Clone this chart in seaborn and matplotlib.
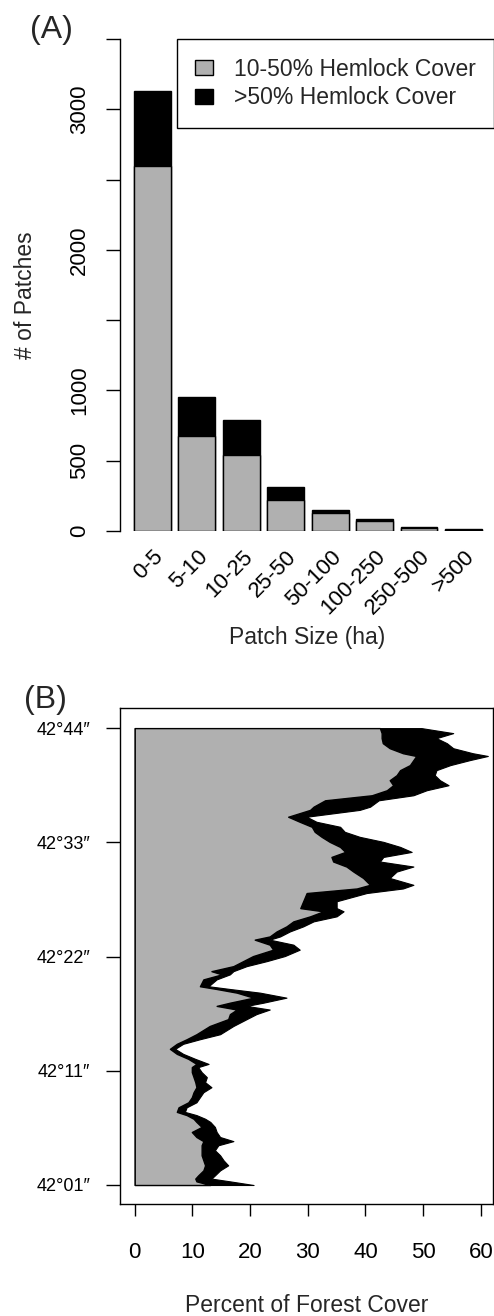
import numpy as np
import pandas as pd
import matplotlib
matplotlib.use('Agg')
import matplotlib.pyplot as plt
import matplotlib.transforms as mtransforms
from matplotlib.patches import Patch
import seaborn as sns

# Panel A: number of hemlock patches per size class
size_classes = ['0-5', '5-10', '10-25', '25-50', '50-100', '100-250', '250-500', '>500']
patches_mid = [2600, 678, 541, 216, 124, 69, 18, 8]     # 10-50% hemlock cover
patches_high = [534, 273, 244, 93, 26, 16, 6, 4]        # >50% hemlock cover

# Panel B: forest cover along the latitudinal transect (0 = 42°01'', 100 = 42°44'')
transect_pos = [0.0, 0.8, 1.4, 2.1, 3.2, 4.3, 5.4, 6.5, 7.6, 8.7, 9.6, 10.5, 11.6, 12.7,
                13.8, 14.5, 15.3, 16.0, 17.0, 18.1, 19.2, 20.3, 21.4, 22.5, 23.6, 24.7,
                25.8, 26.5, 27.6, 28.7, 29.8, 30.9, 31.9, 33.0, 34.8, 36.3, 37.4, 38.4,
                39.2, 39.9, 41.0, 42.1, 42.9, 43.5, 45.0, 46.1, 46.8, 47.9, 49.0, 50.1,
                51.5, 52.6, 53.7, 54.4, 55.5, 56.6, 57.7, 58.8, 59.9, 60.6, 62.1, 63.9,
                64.9, 65.7, 67.2, 68.6, 69.7, 70.8, 71.8, 72.9, 74.0, 75.1, 76.2, 77.3,
                78.4, 79.5, 80.6, 82.1, 82.8, 84.2, 85.3, 86.4, 87.5, 88.6, 89.7, 90.8,
                91.9, 93.0, 93.9, 94.5, 95.6, 96.7, 97.8, 98.9, 100.0]
cover_mid = [13.1, 10.7, 10.5, 11.0, 11.9, 12.2, 11.9, 11.6, 11.6, 11.6, 11.9, 10.7, 9.9, 11.6,
             10.7, 10.2, 9.0, 7.3, 7.6, 9.3, 9.9, 10.2, 10.7, 10.5, 10.2, 9.9,
             9.9, 10.7, 9.3, 7.3, 6.1, 7.3, 9.0, 10.7, 13.0, 16.2, 16.5, 17.7,
             14.2, 16.5, 20.6, 17.7, 14.2, 11.3, 11.9, 15.1, 13.3, 17.1, 18.8, 20.5,
             24.0, 23.4, 20.8, 23.4, 24.6, 26.3, 27.5, 30.4, 32.7, 28.7, 29.2, 29.8,
             38.5, 40.8, 39.6, 37.9, 36.7, 34.4, 34.1, 36.5, 35.6, 33.8, 32.4, 31.2,
             30.7, 28.6, 26.6, 30.4, 31.0, 33.0, 41.1, 43.7, 44.8, 44.2, 45.4, 46.0,
             47.7, 48.3, 48.8, 46.5, 44.2, 43.0, 42.8, 42.8, 42.5]
cover_total = [20.6, 16.5, 13.3, 13.9, 14.8, 16.2, 15.4, 14.8, 13.9, 14.5, 17.1, 14.8, 14.2, 13.9,
               13.1, 12.2, 10.7, 8.7, 9.0, 10.7, 11.3, 11.9, 13.3, 12.2, 12.5, 11.6,
               11.0, 12.8, 10.5, 8.4, 7.0, 8.4, 11.3, 14.8, 17.1, 19.4, 21.1, 23.4,
               19.4, 22.3, 26.3, 21.7, 16.5, 12.8, 14.2, 16.5, 17.1, 19.4, 22.9, 26.0,
               28.6, 27.5, 23.4, 25.2, 26.9, 29.2, 31.0, 35.0, 36.2, 35.0, 35.0, 40.2,
               46.5, 48.3, 44.2, 45.4, 48.3, 42.5, 43.1, 48.0, 46.0, 43.1, 39.0, 36.4,
               35.6, 31.5, 29.8, 39.0, 40.8, 42.3, 48.3, 50.6, 54.4, 52.9, 52.0, 52.3,
               54.7, 58.1, 61.2, 58.6, 55.2, 54.1, 52.3, 55.2, 49.7]
lat_ticks = [0, 25, 50, 75, 100]
lat_labels = ['42°01″', '42°11″', '42°22″', '42°33″', '42°44″']

GRAY = '#b0b0b0'

sns.set_theme(style='ticks')
plt.rcParams['font.family'] = ['Liberation Sans', 'DejaVu Sans']

fig = plt.figure(figsize=(4.94, 13.16), dpi=100)

# ---------------- Panel A ----------------
ax1 = fig.add_axes([120 / 494, 785.3 / 1316, 374 / 494, 491.4 / 1316])
df_a = pd.DataFrame({'size': size_classes,
                     'mid': patches_mid,
                     'total': np.array(patches_mid) + np.array(patches_high)})
sns.barplot(data=df_a, x='size', y='total', color='black', edgecolor='black',
            linewidth=1.0, width=0.83, saturation=1, ax=ax1)
sns.barplot(data=df_a, x='size', y='mid', color=GRAY, edgecolor='black',
            linewidth=1.0, width=0.83, saturation=1, ax=ax1)

ax1.set_xlim(-0.73, 7.69)
ax1.set_ylim(0, 3500)
for s in ['top', 'right', 'bottom']:
    ax1.spines[s].set_visible(False)
ax1.spines['left'].set_linewidth(1.0)
ax1.spines['left'].set_color('black')

yt = np.arange(0, 3501, 500)
ax1.set_yticks(yt)
ax1.set_yticklabels(['0', '500', '1000', '', '2000', '', '3000', ''])
ax1.tick_params(axis='y', length=10, width=1.0, pad=11.5, labelsize=16, colors='black')
plt.setp(ax1.get_yticklabels(), rotation=90, va='center')

ax1.tick_params(axis='x', length=0, pad=16.5, labelsize=16, colors='black')
offset = mtransforms.ScaledTranslation(8 / 100, 0, fig.dpi_scale_trans)
for lab in ax1.get_xticklabels():
    lab.set_rotation(45)
    lab.set_ha('right')
    lab.set_va('center')
    lab.set_rotation_mode('anchor')
    lab.set_transform(lab.get_transform() + offset)

ax1.set_xlabel('Patch Size (ha)', fontsize=16.5, va='center')
ax1.xaxis.set_label_coords(0.5, -0.218)
ax1.set_ylabel('# of Patches', fontsize=16.5, va='center')
ax1.yaxis.set_label_coords(-0.254, 0.48)

handles = [Patch(facecolor=GRAY, edgecolor='black', linewidth=1.0, label='10-50% Hemlock Cover'),
           Patch(facecolor='black', edgecolor='black', linewidth=1.0, label='>50% Hemlock Cover')]
leg = ax1.legend(handles=handles, loc='upper right', bbox_to_anchor=(1.0, 1.0),
                 borderaxespad=0, fontsize=16.5, fancybox=False, framealpha=1,
                 edgecolor='black', handlelength=0.8, handleheight=0.65,
                 handletextpad=0.9, labelspacing=0.25, borderpad=0.8)
leg.get_frame().set_linewidth(1.0)

# ---------------- Panel B ----------------
ax2 = fig.add_axes([120 / 494, 112 / 1316, 373 / 494, 496 / 1316])
ax2.fill_betweenx(transect_pos, 0, cover_total, facecolor='black', edgecolor='black', linewidth=0.8)
ax2.fill_betweenx(transect_pos, 0, cover_mid, facecolor=GRAY, edgecolor='black', linewidth=1.0)

ax2.set_xlim(-2.55, 62.1)
ax2.set_ylim(-4.16, 104.4)
for s in ax2.spines.values():
    s.set_visible(True)
    s.set_linewidth(1.0)
    s.set_color('black')
ax2.set_xticks(np.arange(0, 61, 10))
ax2.tick_params(axis='x', length=8.6, width=1.0, pad=18.5, labelsize=16, colors='black')
ax2.set_yticks(lat_ticks)
ax2.set_yticklabels(lat_labels)
ax2.tick_params(axis='y', length=10, width=1.0, pad=11.5, labelsize=13, colors='black')

ax2.set_xlabel('Percent of Forest Cover', fontsize=16.5, va='center')
ax2.xaxis.set_label_coords(0.5, -0.205)
ax2.set_ylabel('')

fig.text(51 / 494, 1 - 30 / 1316, '(A)', fontsize=23, ha='center', va='center')
fig.text(45.5 / 494, 1 - 700 / 1316, '(B)', fontsize=23, ha='center', va='center')

fig.savefig('out.png', dpi=100, facecolor='white')
